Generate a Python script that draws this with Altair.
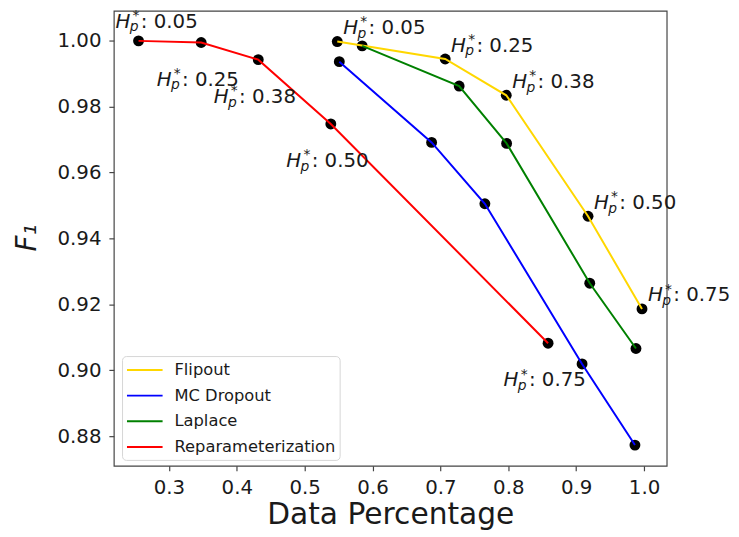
import altair as alt
import pandas as pd

methods = ["Flipout", "MC Dropout", "Laplace", "Reparameterization"]
colors = ["#FFD700", "#0000FF", "#008000", "#FF0000"]
hp_values = ["0.05", "0.25", "0.38", "0.50", "0.75"]

flipout_x = [0.548, 0.707, 0.797, 0.9175, 0.997]
flipout_y = [0.9997, 0.9944, 0.9834, 0.9467, 0.9186]
mc_x = [0.551, 0.687, 0.7655, 0.9087, 0.9866]
mc_y = [0.9936, 0.9691, 0.9505, 0.9019, 0.8773]
laplace_x = [0.5847, 0.7276, 0.7975, 0.920, 0.9881]
laplace_y = [0.9984, 0.9862, 0.9688, 0.9264, 0.9066]
rep_x = [0.2552, 0.3475, 0.4316, 0.5385, 0.8586]
rep_y = [0.9999, 0.9994, 0.9942, 0.9747, 0.9082]

x_ticks = [0.3, 0.4, 0.5, 0.6, 0.7, 0.8, 0.9, 1.0]
y_ticks = [0.88, 0.90, 0.92, 0.94, 0.96, 0.98, 1.00]

rows = []
for m, xs_, ys_ in zip(methods, [flipout_x, mc_x, laplace_x, rep_x],
                       [flipout_y, mc_y, laplace_y, rep_y]):
    for i, (xv, yv) in enumerate(zip(xs_, ys_)):
        rows.append({"method": m, "x": xv, "y": yv,
                     "lab": ": " + hp_values[i], "idx": i})
df = pd.DataFrame(rows)

FONT = "DejaVu Sans"
TXT = "#1a1a1a"

x_enc = alt.X("x:Q",
              scale=alt.Scale(domain=[0.2188, 1.0334], nice=False, zero=False),
              axis=alt.Axis(values=x_ticks, format=".1f", grid=False, domain=False,
                            labelFontSize=20, labelColor=TXT, tickSize=5,
                            tickColor="#444", tickWidth=1.2, labelPadding=7,
                            title="Data Percentage", titleFontSize=30,
                            titleFontWeight="normal", titleColor=TXT,
                            titleBaseline="alphabetic", titleY=58))
y_enc = alt.Y("y:Q",
              scale=alt.Scale(domain=[0.871, 1.009], nice=False, zero=False),
              axis=alt.Axis(values=y_ticks, format=".2f", grid=False, domain=False,
                            labelFontSize=20, labelColor=TXT, tickSize=5,
                            tickColor="#444", tickWidth=1.2, labelPadding=8,
                            title="F\u2081", titleFontSize=28, titleFontStyle="italic",
                            titleFontWeight="normal", titleColor=TXT,
                            titleAngle=270, titleAlign="center",
                            titleBaseline="alphabetic", titleX=-79, titleY=229))

base = alt.Chart(df).encode(x=x_enc, y=y_enc)

points = base.mark_circle(size=121, color="black", opacity=1)

lines = base.mark_line(strokeWidth=2).encode(
    color=alt.Color("method:N",
                    scale=alt.Scale(domain=methods, range=colors),
                    legend=alt.Legend(title=None, orient="none", legendX=8.3, legendY=349,
                                      symbolType="M-1,0H3", symbolSize=324,
                                      symbolStrokeWidth=2, labelFontSize=16.5,
                                      labelColor=TXT, labelOffset=29, rowPadding=7,
                                      labelLimit=400,
                                      padding=4, fillColor="white",
                                      strokeColor="#d6d6d6", cornerRadius=4)),
    order="x:Q")

groups = [
    ("datum.method == 'Flipout'", 6, -7.5),
    ("datum.method == 'Reparameterization' && datum.idx == 0", -23.3, -13.5),
    ("datum.method == 'Reparameterization' && datum.idx > 0", -45, 43.5),
]
elements = [
    ("H", 0, 0, 20, "italic"),
    ("p", 14.4, 3.9, 14, "italic"),
    ("*", 17.3, -7.8, 14, "normal"),
    (None, 25.6, 0, 20, "normal"),
]

texts = []
for cond, bx, by in groups:
    for content, ex, ey, fs, style in elements:
        layer = base.transform_filter(cond)
        if content is None:
            t = layer.mark_text(align="left", baseline="alphabetic", dx=bx + ex, dy=by + ey,
                                fontSize=fs, fontStyle=style, color=TXT, font=FONT
                                ).encode(text="lab:N")
        else:
            t = layer.mark_text(align="left", baseline="alphabetic", dx=bx + ex, dy=by + ey,
                                fontSize=fs, fontStyle=style, color=TXT, font=FONT,
                                text=content)
        texts.append(t)

chart = alt.layer(points, lines, *texts).properties(
    width=559, height=460,
    autosize=alt.AutoSizeParams(type="none"),
    padding={"left": 107, "top": 0, "right": 65, "bottom": 66},
).configure(font=FONT).configure_view(stroke="#444", strokeWidth=1.2)

chart.save("out.html", embed_options={"renderer": "svg", "actions": False})
